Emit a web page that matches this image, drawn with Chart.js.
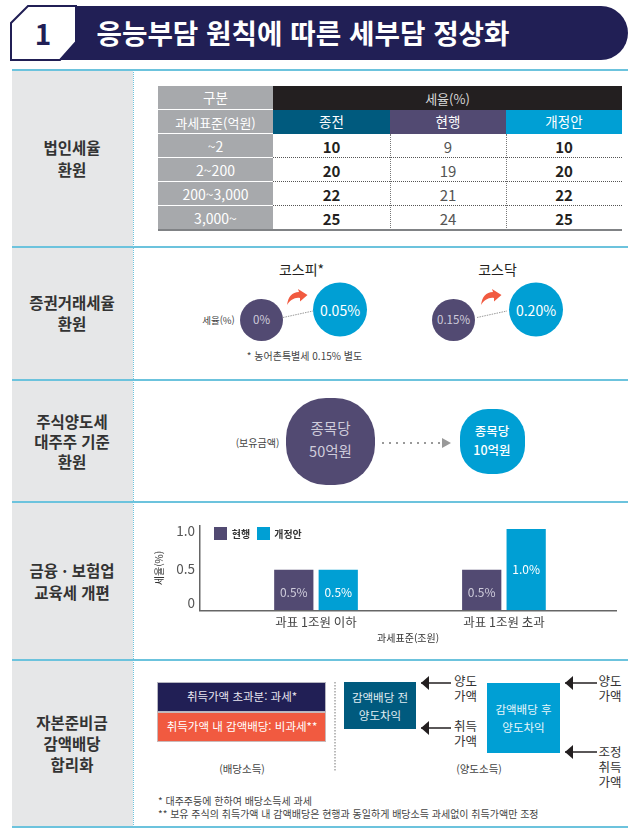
<!DOCTYPE html>
<html lang="ko">
<head>
<meta charset="utf-8">
<title>응능부담 원칙에 따른 세부담 정상화</title>
<script src="https://cdn.jsdelivr.net/npm/chart.js@4/dist/chart.umd.min.js"></script>
<style>
  html, body { margin: 0; padding: 0; background: #fff; }
  #page { position: relative; width: 640px; height: 834px; overflow: hidden;
    font-family: "Noto Sans CJK KR", "Noto Sans", sans-serif; color: #231f20; }
  #page div { position: absolute; box-sizing: border-box; }
  .t { white-space: pre; transform: translate(-50%, -50%); line-height: 1; text-align: center; }
  svg { position: absolute; left: 0; top: 0; }
  #taxChartWrap { left: 136px; top: 516px; width: 490px; height: 130px; }
</style>
</head>
<body>
<div id="page">
  <svg id="art" width="640" height="834" viewBox="0 0 640 834"></svg>
  <div id="taxChartWrap"><canvas id="taxChart" width="490" height="130"></canvas></div>
</div>
<script>
// 법인세율 표
const rateBrackets = ["~2", "2~200", "200~3,000", "3,000~"];
const ratePrev = [10, 20, 22, 25];
const rateCurrent = [9, 19, 21, 24];
const rateProposed = [10, 20, 22, 25];
const rateColumns = ["종전", "현행", "개정안"];

// 교육세 막대
const eduCategories = ["과표 1조원 이하", "과표 1조원 초과"];
const eduCurrent = [0.5, 0.5];
const eduProposed = [0.5, 1.0];
const eduCurrentLabels = ["0.5%", "0.5%"];
const eduProposedLabels = ["0.5%", "1.0%"];
const eduTicks = [0, 0.5, 1];
const eduTickLabels = ["0", "0.5", "1.0"];

const NAVY = "#211f55", PURPLE = "#524a72", BLUE = "#009fd4", TEAL = "#005a7e", ORANGE = "#f15a40";
const page = document.getElementById("page");
const art = document.getElementById("art");

function box(x, y, w, h, bg, extra) {
  const el = document.createElement("div");
  el.style.cssText = `left:${x}px;top:${y}px;width:${w}px;height:${h}px;background:${bg};${extra || ""}`;
  page.insertBefore(el, art);
  return el;
}

function label(text, cx, cy, size, extra) {
  const el = document.createElement("div");
  el.className = "t";
  el.textContent = text;
  el.style.cssText = `left:${cx}px;top:${cy}px;font-size:${size}px;${extra || ""}`;
  page.appendChild(el);
  return el;
}

function svg(markup) {
  art.insertAdjacentHTML("beforeend", markup);
}

// 왼쪽 회색 칸과 구분선
box(12, 70, 121, 757, "#e6e7e8");
box(133, 70, 1.5, 757, "transparent", "border-left:1.5px dotted #6cc3dd;");
[70, 247, 380, 502, 660, 827].forEach((y) => box(12, y - 1, 616, 2, "#6cc3dd"));

const sideLabels = [
  ["법인세율", 72, 148], ["환원", 72, 170],
  ["증권거래세율", 72, 303], ["환원", 72, 324],
  ["주식양도세", 72, 422], ["대주주 기준", 72, 442], ["환원", 72, 462],
  ["금융 · 보험업", 72, 571], ["교육세 개편", 72, 593],
  ["자본준비금", 72, 723], ["감액배당", 72, 744], ["합리화", 72, 765],
];
sideLabels.forEach(([s, x, y]) => label(s, x, y, 15.5, "font-weight:700;color:#333;"));

// 제목 배너
box(60, 6, 568, 54, NAVY, "border-radius:0 27px 27px 0;");
svg(`<polygon points="28,6 76,6 76,42 60,60 11,60 11,23" fill="#fff" stroke="${NAVY}" stroke-width="2"/>`);
label("1", 43, 33, 28, `font-weight:700;color:${NAVY};`);
label("응능부담 원칙에 따른 세부담 정상화", 303, 33, 27.7, "font-weight:700;color:#fff;");

// 법인세율 표
const colX = [158, 273, 390, 506, 622];
const rowY = [86, 110, 134, 158, 182, 206, 230];
const grayText = "color:#fff;";
box(colX[0], rowY[0], colX[1] - colX[0], 23, "#a7a9ac");
label("구분", (colX[0] + colX[1]) / 2, 98, 13.5, grayText);
box(colX[1], rowY[0], colX[4] - colX[1], 24, "#231f20");
label("세율(%)", (colX[1] + colX[4]) / 2, 98, 13, "color:#d8d8d8;");
box(colX[0], rowY[1], colX[1] - colX[0], 23, "#a7a9ac");
label("과세표준(억원)", (colX[0] + colX[1]) / 2, 122, 13, grayText);
[TEAL, PURPLE, BLUE].forEach((c, i) => {
  box(colX[i + 1], rowY[1], colX[i + 2] - colX[i + 1], 24, c);
  label(rateColumns[i], (colX[i + 1] + colX[i + 2]) / 2, 122, 13.5, "color:#fff;");
});
rateBrackets.forEach((b, r) => {
  const top = rowY[r + 2], cy = top + 11.5;
  box(colX[0], top, colX[1] - colX[0], 23, "#a7a9ac");
  label(b, (colX[0] + colX[1]) / 2, cy, 14, grayText);
  if (r < 3) box(colX[1], top + 23, colX[4] - colX[1], 1, "transparent", "border-top:1px dotted #555;");
  label(String(ratePrev[r]), (colX[1] + colX[2]) / 2, cy, 15, "font-weight:700;");
  label(String(rateCurrent[r]), (colX[2] + colX[3]) / 2, cy, 15, "color:#555;");
  label(String(rateProposed[r]), (colX[3] + colX[4]) / 2, cy, 15, "font-weight:700;");
});
[2, 3].forEach((i) => box(colX[i], rowY[2], 1, 96, "transparent", "border-left:1px dotted #777;"));
box(colX[0], 229, colX[4] - colX[0], 2, "#808285");

// 증권거래세율
const curvedArrow = (dx) => `<path transform="translate(${dx},0)" fill="${ORANGE}" d="M287,305 C288,297 292,292 299,292 L298,289 L307.5,295 L300,301.5 L300,298 C295,297 290,300 287,305 Z"/>`;
[0, 194].forEach((dx) => {
  svg(`<line x1="${283 + dx}" y1="317.5" x2="${313 + dx}" y2="311" stroke="#999" stroke-width="1" stroke-dasharray="1.5 1"/>`);
  svg(curvedArrow(dx));
});
svg(`<ellipse cx="261.5" cy="320" rx="21.5" ry="21" fill="${PURPLE}"/>`);
svg(`<ellipse cx="453.5" cy="320" rx="21.5" ry="21" fill="${PURPLE}"/>`);
svg(`<circle cx="340" cy="309.5" r="27" fill="${BLUE}"/>`);
svg(`<circle cx="536" cy="309.5" r="27" fill="${BLUE}"/>`);
label("코스피*", 301.5, 269, 14);
label("코스닥", 497.5, 269, 14);
label("세율(%)", 218.5, 321, 9.5, "color:#444;");
label("0%", 261.5, 320, 11.5, "color:#cfccdb;");
label("0.15%", 453.5, 320, 11.5, "color:#cfccdb;");
label("0.05%", 340, 309.5, 14, "color:#fff;");
label("0.20%", 536, 309.5, 14, "color:#fff;");
label("* 농어촌특별세 0.15% 별도", 304.5, 356, 10, "color:#444;");

// 주식양도세
box(286, 398, 89, 87, PURPLE, "border-radius:40px;");
box(459.5, 409, 65, 65, BLUE, "border-radius:28px;");
label("(보유금액)", 257.5, 443, 10, "color:#444;");
label("종목당", 330.5, 428, 14.5, "color:#cfccdb;");
label("50억원", 330.5, 451, 14.5, "color:#cfccdb;");
label("종목당", 492, 431, 12.5, "color:#fff;font-weight:500;");
label("10억원", 492, 450, 12.5, "color:#fff;font-weight:500;");
svg(`<line x1="382" y1="443" x2="441" y2="443" stroke="#999" stroke-width="2" stroke-dasharray="2 5"/>`);
svg(`<polygon points="442,438 451,443 442,448" fill="#999"/>`);

// 교육세 범례
box(214, 527, 13, 13, PURPLE);
label("현행", 241, 534, 10, "font-weight:700;color:#333;");
box(257, 527, 13, 13, BLUE);
label("개정안", 288, 534, 10, "font-weight:700;color:#333;");

// 자본준비금
box(157, 682, 169, 30, NAVY, "border:1px solid #b5b5c0;");
box(157, 712, 169, 30, ORANGE, "border:1px solid #c9b9b9;");
label("취득가액 초과분: 과세*", 242, 697, 11.5, "color:#e8e6f0;");
label("취득가액 내 감액배당: 비과세**", 242, 727, 11.5, "color:#fff;");
svg(`<line x1="335" y1="682" x2="335" y2="772" stroke="#777" stroke-width="1" stroke-dasharray="1.5 1.5"/>`);
box(344, 682, 72, 47, TEAL);
label("감액배당 전\n양도차익", 380, 706, 11.5, "color:#e0eef3;line-height:18px;");
box(487, 683, 73, 70, BLUE);
label("감액배당 후\n양도차익", 523.5, 718, 11.5, "color:#e6f6fb;line-height:18px;");

const flatArrow = (x1, x2, y) =>
  `<line x1="${x1}" y1="${y}" x2="${x2}" y2="${y}" stroke="#231f20" stroke-width="1.5"/>` +
  `<polygon points="${x2},${y} ${x2 + 8},${y - 7} ${x2 + 8},${y + 7}" fill="#231f20"/>`;
svg(flatArrow(451, 421, 683));
svg(flatArrow(451, 421, 728));
svg(flatArrow(597, 565, 683));
svg(flatArrow(597, 565, 752));

const flowLabels = [
  ["양도\n가액", 465.5, 688],
  ["취득\n가액", 465.5, 732.5],
  ["양도\n가액", 610, 688],
  ["조정\n취득\n가액", 610, 766],
];
flowLabels.forEach(([s, x, y]) => label(s, x, y, 12.5, "color:#333;line-height:15px;"));
label("(배당소득)", 242, 769, 10.5, "color:#444;");
label("(양도소득)", 479, 769, 10.5, "color:#444;");
label("* 대주주등에 한하여 배당소득세 과세\n** 보유 주식의 취득가액 내 감액배당은 현행과 동일하게 배당소득 과세없이 취득가액만 조정", 158, 806.5, 10, "color:#444;text-align:left;line-height:13px;transform:translate(0,-50%);");

// 막대 안 값 표시
const barValueLabels = {
  id: "barValueLabels",
  afterDatasetsDraw(chart) {
    const { ctx } = chart;
    const sets = [eduCurrentLabels, eduProposedLabels];
    const colors = ["#cfccdb", "#fff"];
    ctx.save();
    ctx.textAlign = "center";
    ctx.textBaseline = "middle";
    ctx.font = '12px "Noto Sans CJK KR"';
    sets.forEach((texts, d) => {
      chart.getDatasetMeta(d).data.forEach((bar, i) => {
        ctx.fillStyle = colors[d];
        ctx.fillText(texts[i], bar.x, (bar.y + bar.base) / 2 + (texts[i] === "0.5%" ? 2 : 0));
      });
    });
    ctx.restore();
  },
};

// 원본의 y축 글자는 눈금에서 약간 어긋나 있음
const yTickText = {
  id: "yTickText",
  afterDraw(chart) {
    const { ctx } = chart;
    const y = chart.scales.y;
    const nudge = [-7, -1, 2];
    ctx.save();
    ctx.textAlign = "right";
    ctx.textBaseline = "middle";
    ctx.fillStyle = "#555";
    ctx.font = '13.5px "Noto Sans CJK KR"';
    eduTicks.forEach((v, i) => {
      ctx.fillText(eduTickLabels[i], y.right - 4.5, y.getPixelForValue(v) + nudge[i]);
    });
    ctx.restore();
  },
};

const toPoints = (arr) => arr.map((v, i) => ({ x: i + 1, y: v }));

new Chart(document.getElementById("taxChart"), {
  type: "bar",
  data: {
    datasets: [
      { label: "현행", data: toPoints(eduCurrent), backgroundColor: PURPLE },
      { label: "개정안", data: toPoints(eduProposed), backgroundColor: BLUE },
    ],
  },
  plugins: [barValueLabels, yTickText],
  options: {
    responsive: false,
    animation: false,
    devicePixelRatio: 1,
    categoryPercentage: 0.473,
    barPercentage: 0.883,
    layout: { padding: { top: 9.7, right: 9.3 } },
    plugins: { legend: { display: false }, tooltip: { enabled: false } },
    scales: {
      x: {
        type: "linear",
        offset: false,
        min: 0.38,
        max: 2.6,
        afterBuildTicks: (scale) => { scale.ticks = eduCategories.map((_, i) => ({ value: i + 1 })); },
        afterFit: (scale) => { scale.height = 35.7; },
        grid: { display: false, drawTicks: false, offset: false },
        border: { color: "#666", width: 1.5 },
        ticks: {
          callback: (v) => eduCategories[v - 1] ?? "",
          font: { family: "Noto Sans CJK KR", size: 12.5 },
          color: "#444",
          padding: 4,
          maxRotation: 0,
        },
        title: {
          display: true,
          text: "과세표준(조원)",
          font: { family: "Noto Sans CJK KR", size: 10 },
          color: "#333",
          padding: { top: 0, bottom: 2 },
        },
      },
      y: {
        min: 0,
        max: 1.04,
        afterFit: (scale) => { scale.width = 63.5; },
        grid: { display: false, drawTicks: false },
        border: { color: "#666", width: 1.5 },
        ticks: { display: false },
        title: {
          display: true,
          text: "세율(%)",
          font: { family: "Noto Sans CJK KR", size: 10 },
          color: "#333",
          padding: { top: 17, bottom: 0 },
        },
      },
    },
  },
});
</script>
</body>
</html>
